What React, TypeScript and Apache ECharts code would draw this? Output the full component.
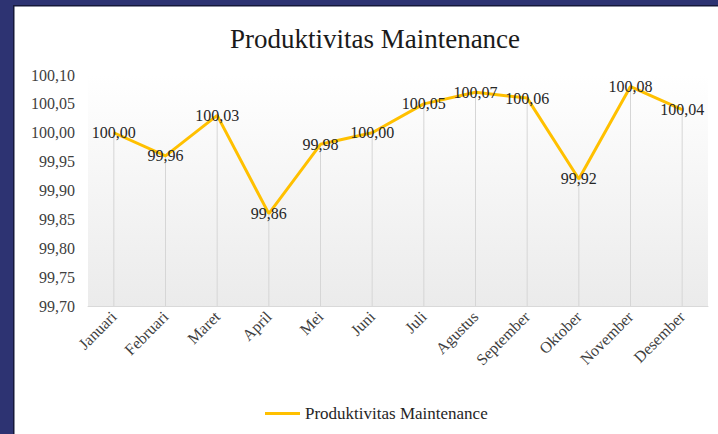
import React, { useEffect, useRef } from "react";
import * as echarts from "echarts";

const categories = ["Januari", "Februari", "Maret", "April", "Mei", "Juni", "Juli", "Agustus", "September", "Oktober", "November", "Desember"];
const values = [100.0, 99.96, 100.03, 99.86, 99.98, 100.0, 100.05, 100.07, 100.06, 99.92, 100.08, 100.04];
const seriesName = "Produktivitas Maintenance";
const titleText = "Produktivitas Maintenance";
const yMin = 99.7;
const yMax = 100.1;
const yStep = 0.05;

const fmt = (v: number) => v.toFixed(2).replace(".", ",");
const SERIF = "'Liberation Serif', 'Times New Roman', serif";

export default function App() {
  const ref = useRef<HTMLDivElement>(null);
  useEffect(() => {
    if (!ref.current) return;
    const chart = echarts.init(ref.current, undefined, { renderer: "svg" });
    chart.setOption({
      animation: false,
      backgroundColor: "#ffffff",
      title: {
        text: titleText,
        left: 370,
        textAlign: "center",
        top: 20,
        textStyle: { fontFamily: SERIF, fontSize: 27, fontWeight: "normal", color: "#1a1a1a" },
      },
      graphic: [
        { type: "rect", shape: { x: 0, y: 0, width: 13, height: 434 }, style: { fill: "#2d3372" }, z: 100 },
        { type: "rect", shape: { x: 0, y: 0, width: 718, height: 5 }, style: { fill: "#2d3372" }, z: 100 },
        { type: "rect", shape: { x: 13, y: 5, width: 1.5, height: 429 }, style: { fill: "#15183a" }, z: 100 },
        { type: "rect", shape: { x: 13, y: 5, width: 705, height: 1.5 }, style: { fill: "#15183a" }, z: 100 },
      ],
      legend: {
        data: [seriesName],
        left: 260,
        top: 400,
        icon: "rect",
        itemWidth: 35,
        itemHeight: 3,
        itemGap: 4,
        textStyle: { fontFamily: SERIF, fontSize: 17, color: "#262626" },
      },
      grid: {
        left: 88,
        right: 10,
        top: 75,
        bottom: 128,
        show: true,
        borderWidth: 0,
        backgroundColor: new echarts.graphic.LinearGradient(0, 0, 0, 1, [
          { offset: 0, color: "#ffffff" },
          { offset: 1, color: "#ebebeb" },
        ]),
      },
      xAxis: {
        type: "category",
        data: categories,
        boundaryGap: true,
        axisLine: { show: true, lineStyle: { color: "#d9d9d9", width: 1 } },
        axisTick: { show: false },
        axisLabel: {
          rotate: 45,
          interval: 0,
          margin: 8,
          fontFamily: SERIF,
          fontSize: 16,
          color: "#404040",
        },
      },
      yAxis: {
        type: "value",
        min: yMin,
        max: yMax,
        interval: yStep,
        axisLine: { show: false },
        axisTick: { show: false },
        splitLine: { show: false },
        axisLabel: {
          margin: 13,
          fontFamily: SERIF,
          fontSize: 16,
          color: "#404040",
          formatter: (v: number) => fmt(v),
        },
      },
      series: [
        {
          name: "drop",
          type: "bar",
          data: values,
          barWidth: 1,
          itemStyle: { color: "#d6d6d6" },
          silent: true,
          z: 1,
        },
        {
          name: seriesName,
          type: "line",
          data: values,
          symbol: "circle",
          symbolSize: 1,
          itemStyle: { color: "#FFC000" },
          lineStyle: { color: "#FFC000", width: 3 },
          z: 3,
          label: {
            show: true,
            position: "inside",
            fontFamily: SERIF,
            fontSize: 16,
            color: "#262626",
            formatter: (p: any) => fmt(p.value),
          },
        },
      ],
    });
    return () => chart.dispose();
  }, []);
  return (
    <div
      ref={ref}
      style={{ position: "fixed", left: 0, top: 0, width: 718, height: 434 }}
    />
  );
}
